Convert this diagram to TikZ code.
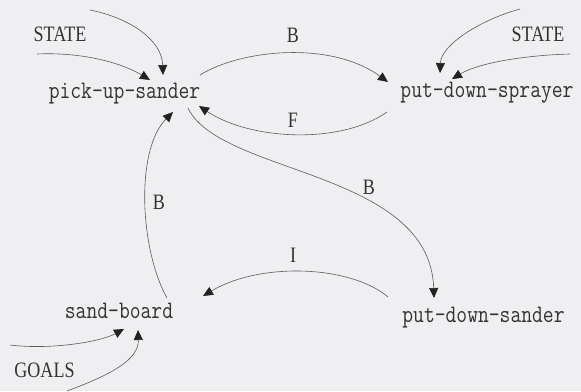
\documentclass[tikz,border=0pt]{standalone}
\usepackage{fontspec}
\usepackage{graphicx}
\setmainfont{Liberation Serif}
\usetikzlibrary{arrows.meta}
\definecolor{bgc}{HTML}{EFEFF2}
\definecolor{inkc}{HTML}{333333}
\definecolor{linec}{HTML}{5A5A5A}
\definecolor{tipc}{HTML}{222222}
\newcommand\mytask[1]{\scalebox{1}[1.2]{\ttfamily\fontsize{21}{23}\selectfont #1}}
\newcommand\mylab[1]{\scalebox{0.82}[1]{\fontsize{22}{24}\selectfont #1}}
\tikzset{
  task/.style={inner sep=0pt, anchor=base, text=inkc},
  lab/.style={inner sep=0pt, text=inkc},
  conn/.style={draw=linec, line width=0.6pt, -{Triangle[length=10pt,width=9pt,fill=tipc,color=tipc]}},
}
\begin{document}
\begin{tikzpicture}[x=1pt,y=-1pt]
\fill[bgc] (0,0) rectangle (581,391);
\useasboundingbox (0,0) rectangle (581,391);
% task nodes
\node[task] (pus) at (124.5,98) {\mytask{pick-up-sander}};
\node[task] (pds) at (487,97) {\mytask{put-down-sprayer}};
\node[task] (sb) at (119,318) {\mytask{sand-board}};
\node[task] (pdsa) at (483.5,322) {\mytask{put-down-sander}};
% labels
\node[lab] (stl) at (60,34.5) {\mylab{STATE}};
\node[lab] (str) at (538,34.5) {\mylab{STATE}};
\node[lab] (goals) at (44.5,370.5) {\mylab{GOALS}};
\node[lab] (lbt) at (293,35.5) {\mylab{B}};
\node[lab] (lf) at (293,120.5) {\mylab{F}};
\node[lab] (lbm) at (369,187.5) {\mylab{B}};
\node[lab] (li) at (293,255) {\mylab{I}};
\node[lab] (lbl) at (159,202.5) {\mylab{B}};
% free ends
\coordinate (s1a) at (90,10);
\coordinate (s1b) at (37,54);
\coordinate (s2a) at (520,9);
\coordinate (s2b) at (570,54);
\coordinate (g1) at (10,345);
\coordinate (g2) at (67,391);
% STATE arrows
\draw[conn] (s1a) .. controls (130,18) and (162,40) .. ([shift={(38.5,-23)}]pus.base);
\draw[conn] (s1b) .. controls (80,52) and (120,62) .. ([shift={(25.5,-18)}]pus.base);
\draw[conn] (s2a) .. controls (480,20) and (441,45) .. ([shift={(-47,-24)}]pds.base);
\draw[conn] (s2b) .. controls (530,55) and (480,62) .. ([shift={(-35,-18)}]pds.base);
% GOALS arrows
\draw[conn] (g1) .. controls (50,350) and (100,342) .. ([shift={(5,11)}]sb.base);
\draw[conn] (g2) .. controls (110,375) and (139,360) .. ([shift={(19,12)}]sb.base);
% B top
\draw[conn] ([shift={(75.5,-23)}]pus.base) .. controls (240,50) and (330,40) .. ([shift={(-99,-15)}]pds.base);
% F
\draw[conn] ([shift={(-100,15)}]pds.base) .. controls (340,145) and (250,140) .. ([shift={(74.5,8)}]pus.base);
% B middle
\draw[conn] ([shift={(63.5,10)}]pus.base) .. controls (220,175) and (430,170) .. ([shift={(-49.5,-24)}]pdsa.base);
% I
\draw[conn] ([shift={(-95.5,-25)}]pdsa.base) .. controls (350,265) and (260,262) .. ([shift={(84,-22)}]sb.base);
% B left
\draw[conn] ([shift={(48,-20)}]sb.base) .. controls (140,250) and (135,150) .. ([shift={(48.5,14)}]pus.base);
\end{tikzpicture}
\end{document}
